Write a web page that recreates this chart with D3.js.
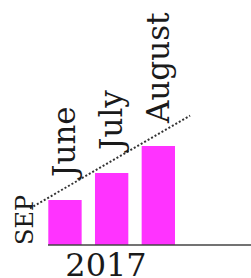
<!DOCTYPE html>
<html><head><meta charset="utf-8">
<script src="https://cdn.jsdelivr.net/npm/d3@7"></script>
<style>html,body{margin:0;padding:0;background:#fff;overflow:hidden}</style>
</head><body>
<svg id="c" width="251" height="278"></svg>
<script>
const months = ["June", "July", "August"];
const values = [5, 8, 11];
const yearLabel = "2017";
const startLabel = "SEP";
// trend line end positions (in band-index units) and its values
const trendIdx = [-0.75, 2.68];
const trendVals = [4.08, 14.37];

const svg = d3.select("#c");
const font = "'DejaVu Serif', serif";
const baseY = 245;

const x = d3.scaleBand().domain(months).range([48.3, 175]).paddingInner(0.2857).paddingOuter(0);
const y = d3.scaleLinear().domain([0, 11]).range([baseY, 146]);
const xi = d3.scaleLinear().domain([0, 2]).range([x(months[0]) + x.bandwidth()/2, x(months[2]) + x.bandwidth()/2]);

// bars
svg.selectAll("rect.bar").data(months).join("rect")
  .attr("x", d => x(d)).attr("width", x.bandwidth())
  .attr("y", (d,i) => y(values[i])).attr("height", (d,i) => baseY - y(values[i]))
  .attr("fill", "#ff33ff");

// axis line
svg.append("line").attr("x1", 48).attr("x2", 251).attr("y1", baseY).attr("y2", baseY)
  .attr("stroke", "#444").attr("stroke-width", 1.5);

// dotted trend line
svg.append("line")
  .attr("x1", xi(trendIdx[0])).attr("y1", y(trendVals[0]))
  .attr("x2", xi(trendIdx[1])).attr("y2", y(trendVals[1]))
  .attr("stroke", "#333").attr("stroke-width", 2).attr("stroke-dasharray", "2,2");

// month labels
svg.selectAll("text.m").data(months).join("text")
  .attr("transform", (d,i) => `translate(${x(d) + x.bandwidth()/2 - 1},${y(values[i]) - 23}) rotate(-90)`)
  .attr("dy", "0.36em")
  .attr("font-family", font).attr("font-size", 31).attr("fill", "#1a1a1a")
  .text(d => d);

// SEP label
svg.append("text")
  .attr("transform", `translate(24,${baseY}) rotate(-90)`)
  .attr("dy", "0.36em")
  .attr("font-family", font).attr("font-size", 24).attr("fill", "#1a1a1a")
  .text(startLabel);

// year label
svg.append("text")
  .attr("x", 106).attr("y", 276).attr("text-anchor", "middle")
  .attr("font-family", font).attr("font-size", 32).attr("fill", "#1a1a1a")
  .text(yearLabel);
</script>
</body></html>
